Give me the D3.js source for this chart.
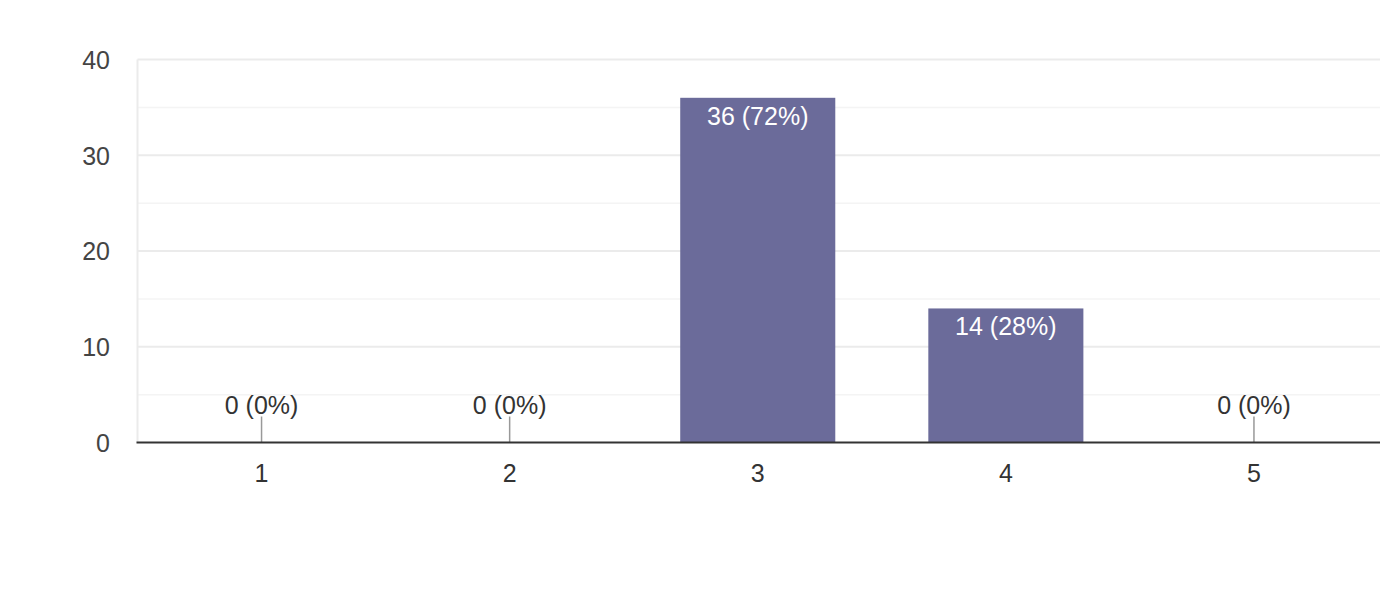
<!DOCTYPE html>
<html><head><meta charset="utf-8">
<script src="https://cdn.jsdelivr.net/npm/d3@7"></script>
<style>body{margin:0;background:#fff;}svg{display:block;font-family:"Liberation Sans",Arial,sans-serif;}</style>
</head><body>
<script>
const categories = ["1","2","3","4","5"];
const counts = [0,0,36,14,0];
const percents = ["0%","0%","72%","28%","0%"];
const yTicks = [0,10,20,30,40];
const yMinorTicks = [5,15,25,35];

const W = 1380, H = 603;
const svg = d3.select("body").append("svg").attr("width", W).attr("height", H);
const mLeft = 137.5, mRight = 1378, mTop = 59.5, mBottom = 442.5;
const x = d3.scaleBand().domain(categories).range([mLeft, mRight]).paddingInner(0.375).paddingOuter(0.1875);
const y = d3.scaleLinear().domain([0,40]).range([mBottom, mTop]);

// minor grid
svg.append("g").selectAll("line").data(yMinorTicks).join("line")
  .attr("x1", mLeft).attr("x2", W).attr("y1", d=>y(d)).attr("y2", d=>y(d))
  .attr("stroke", "#f4f4f4").attr("stroke-width", 1.5);
// major grid
svg.append("g").selectAll("line").data(yTicks.filter(d=>d>0)).join("line")
  .attr("x1", mLeft).attr("x2", W).attr("y1", d=>y(d)).attr("y2", d=>y(d))
  .attr("stroke", "#ebebeb").attr("stroke-width", 2);
// left frame line
svg.append("line").attr("x1", mLeft).attr("x2", mLeft).attr("y1", y(40)).attr("y2", mBottom)
  .attr("stroke", "#ebebeb").attr("stroke-width", 2);

// y labels
const yAxis = d3.axisLeft(y).tickValues(yTicks).tickSize(0).tickPadding(0);
const ya = svg.append("g").attr("transform", `translate(110,0)`).call(yAxis);
ya.select(".domain").remove();
ya.selectAll("text").attr("font-size", 25).attr("fill", "#444").attr("font-family", "Liberation Sans, Arial, sans-serif").attr("dy", "0.35em");

// bars
const data = categories.map((c,i)=>({c, v: counts[i], p: percents[i]}));
svg.append("g").selectAll("rect").data(data.filter(d=>d.v>0)).join("rect")
  .attr("x", d=>x(d.c)).attr("width", x.bandwidth())
  .attr("y", d=>y(d.v)).attr("height", d=>y(0)-y(d.v))
  .attr("fill", "#6b6b9a");

// zero leader lines
svg.append("g").selectAll("line").data(data.filter(d=>d.v===0)).join("line")
  .attr("x1", d=>x(d.c)+x.bandwidth()/2).attr("x2", d=>x(d.c)+x.bandwidth()/2)
  .attr("y1", y(0)-26).attr("y2", y(0))
  .attr("stroke", "#999").attr("stroke-width", 1.5);

// labels
svg.append("g").selectAll("text").data(data).join("text")
  .attr("x", d=>x(d.c)+x.bandwidth()/2)
  .attr("y", d=> d.v>0 ? y(d.v)+27 : y(0)-29)
  .attr("text-anchor", "middle").attr("font-size", 25)
  .attr("fill", d=> d.v>0 ? "#fff" : "#333")
  .text(d=>`${d.v} (${d.p})`);

// baseline
svg.append("line").attr("x1", mLeft-1).attr("x2", W).attr("y1", y(0)).attr("y2", y(0))
  .attr("stroke", "#333").attr("stroke-width", 2);

// x axis labels
const xAxis = d3.axisBottom(x).tickSize(0).tickPadding(0);
const xa = svg.append("g").attr("transform", `translate(0,${mBottom})`).call(xAxis);
xa.select(".domain").remove();
xa.selectAll("text").attr("font-size", 25).attr("fill", "#333").attr("dy", null).attr("y", 39)
  .attr("font-family", "Liberation Sans, Arial, sans-serif");
</script>
</body></html>
